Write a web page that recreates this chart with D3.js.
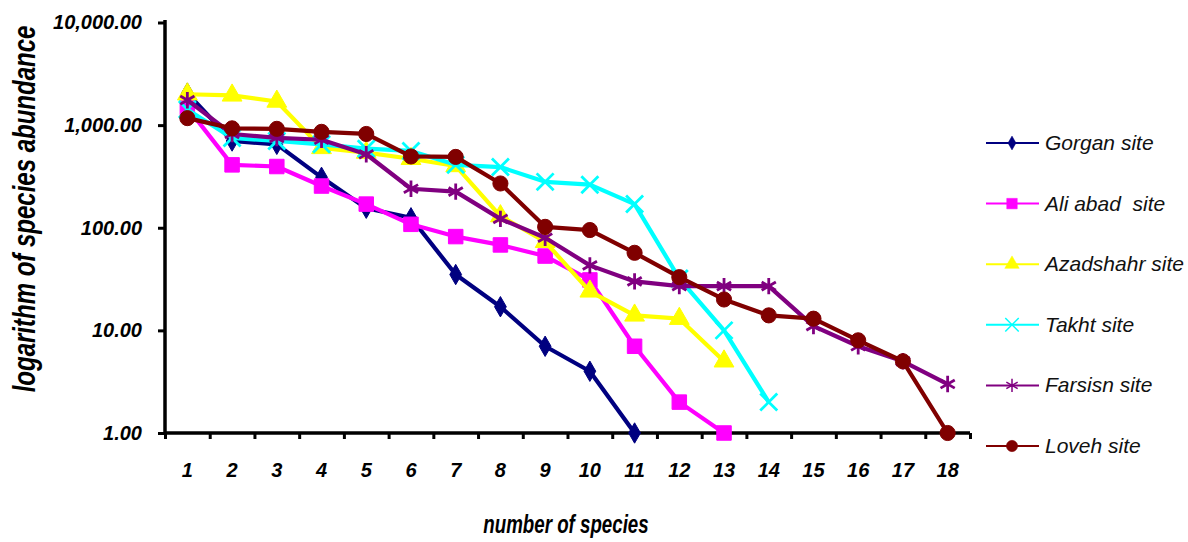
<!DOCTYPE html>
<html lang="en">
<head>
<meta charset="UTF-8">
<title>Species abundance by site</title>
<script src="https://cdn.jsdelivr.net/npm/d3@7/dist/d3.min.js"></script>
<style>
  body { margin: 0; background: #fff; }
  svg { font-family: "Liberation Sans", Arial, sans-serif; }
  .tick-label { font-weight: bold; font-style: italic; font-size: 20px; fill: #000; }
  .axis-title { font-weight: bold; font-style: italic; font-size: 24px; fill: #000; }
  .legend text { font-style: italic; font-size: 21px; fill: #111; white-space: pre; }
</style>
</head>
<body>
<svg id="chart" width="1188" height="542"></svg>
<script>
// species rank (x categories)
var ranks = d3.range(1, 19);

// abundance per site, by rank
var gorgan    = [2050, 700, 650, 310, 155, 125, 35, 17, 7, 4, 1];
var aliAbad   = [1480, 410, 395, 255, 170, 108, 82, 68, 53, 31, 7, 2, 1];
var azadshahr = [2000, 1950, 1700, 600, 540, 470, 400, 130, 73, 24, 14, 13, 5];
var takht     = [1420, 750, 700, 650, 590, 560, 410, 390, 280, 263, 170, 32, 10, 2];
var farsisn   = [1750, 820, 750, 720, 520, 240, 225, 122, 80, 43, 30, 27, 27, 27, 11, 7, 5, 3];
var loveh     = [1170, 930, 920, 860, 820, 495, 490, 270, 102, 95, 57, 33, 20, 14, 13, 8, 5, 1];

var siteNames = ["Gorgan site", "Ali abad  site", "Azadshahr site", "Takht site", "Farsisn site", "Loveh site"];
var yTicks = [1, 10, 100, 1000, 10000];

var series = [
  { name: siteNames[0], values: gorgan,    color: "#000080", symbol: d3.symbolDiamond,  size: 120, lsize: 55,  stroke: false },
  { name: siteNames[1], values: aliAbad,   color: "#ff00ff", symbol: d3.symbolSquare,   size: 210, lsize: 110, stroke: false },
  { name: siteNames[2], values: azadshahr, color: "#ffff00", symbol: d3.symbolTriangle, size: 170, lsize: 90,  stroke: false },
  { name: siteNames[3], values: takht,     color: "#00ffff", symbol: d3.symbolTimes,    size: 190, lsize: 120, stroke: true },
  { name: siteNames[4], values: farsisn,   color: "#800080", symbol: d3.symbolAsterisk, size: 190, lsize: 120, stroke: true },
  { name: siteNames[5], values: loveh,     color: "#800000", symbol: d3.symbolCircle,   size: 180, lsize: 100, stroke: false }
];

var svg = d3.select("#chart");
var plotLeft = 165, plotRight = 970, plotTop = 22.5, plotBottom = 433;

var x = d3.scaleBand().domain(ranks).range([plotLeft, plotRight]).padding(0);
var xb = d3.scaleLinear().domain([0, 18]).range([plotLeft, plotRight]);
var y = d3.scaleLog().domain([1, 10000]).range([plotBottom, plotTop]);

// y axis
var yAxis = svg.append("g")
  .attr("transform", "translate(" + plotLeft + ",0)")
  .call(d3.axisLeft(y).tickValues(yTicks).tickFormat(d3.format(",.2f")).tickSize(7).tickPadding(16));
yAxis.select(".domain").attr("d", "M0,20V" + plotBottom).attr("stroke", "#000").attr("stroke-width", 3.5);
yAxis.selectAll(".tick line").attr("stroke-width", 3);
yAxis.selectAll(".tick text").attr("class", "tick-label").attr("font-size", null).attr("font-family", null);

// x axis: tick marks on category boundaries
var xTickAxis = svg.append("g")
  .attr("transform", "translate(0," + plotBottom + ")")
  .call(d3.axisBottom(xb).tickValues(d3.range(0, 19)).tickFormat("").tickSize(6));
xTickAxis.select(".domain").attr("d", "M" + plotLeft + ",0H" + plotRight).attr("stroke", "#000").attr("stroke-width", 3.5);
xTickAxis.selectAll(".tick line").attr("stroke-width", 3);

// x labels at category centres
var xLabAxis = svg.append("g")
  .attr("transform", "translate(0," + plotBottom + ")")
  .call(d3.axisBottom(x).tickSize(0).tickPadding(30));
xLabAxis.select(".domain").remove();
xLabAxis.selectAll(".tick text").attr("class", "tick-label").attr("font-size", null).attr("font-family", null);

// axis titles
svg.append("text").attr("class", "axis-title")
  .attr("transform", "translate(566,533) scale(0.78,1.1)").attr("text-anchor", "middle")
  .text("number of species");
svg.append("text").attr("class", "axis-title")
  .attr("transform", "translate(35,209) rotate(-90) scale(1,1.3)").attr("text-anchor", "middle")
  .text("logarithm of species abundance");

// lines and markers
var line = d3.line()
  .x(function(d, i) { return x(ranks[i]) + x.bandwidth() / 2; })
  .y(function(d) { return y(d); });

series.forEach(function(s) {
  var g = svg.append("g");
  g.append("path")
    .datum(s.values)
    .attr("fill", "none")
    .attr("stroke", s.color)
    .attr("stroke-width", 4.2)
    .attr("stroke-linejoin", "round")
    .attr("d", line);
  g.selectAll("path.m")
    .data(s.values)
    .enter().append("path")
    .attr("class", "m")
    .attr("transform", function(d, i) {
      return "translate(" + (x(ranks[i]) + x.bandwidth() / 2) + "," + y(d) + ")";
    })
    .attr("d", d3.symbol().type(s.symbol).size(s.size))
    .attr("fill", s.stroke ? "none" : s.color)
    .attr("stroke", s.color)
    .attr("stroke-width", s.stroke ? 2.8 : 1);
});

// legend
var legend = svg.append("g").attr("class", "legend");
var legY = d3.scalePoint().domain(siteNames).range([143, 446]);
series.forEach(function(s) {
  var ly = legY(s.name);
  var lg = legend.append("g").attr("transform", "translate(0," + ly + ")");
  lg.append("line").attr("x1", 986).attr("x2", 1039).attr("y1", 0).attr("y2", 0)
    .attr("stroke", s.color).attr("stroke-width", 2);
  lg.append("path").attr("transform", "translate(1012,0)")
    .attr("d", d3.symbol().type(s.symbol).size(s.lsize))
    .attr("fill", s.stroke ? "none" : s.color)
    .attr("stroke", s.color).attr("stroke-width", s.stroke ? 1.5 : 0.5);
  lg.append("text").attr("x", 1045).attr("y", 7).text(s.name);
});
</script>
</body>
</html>
